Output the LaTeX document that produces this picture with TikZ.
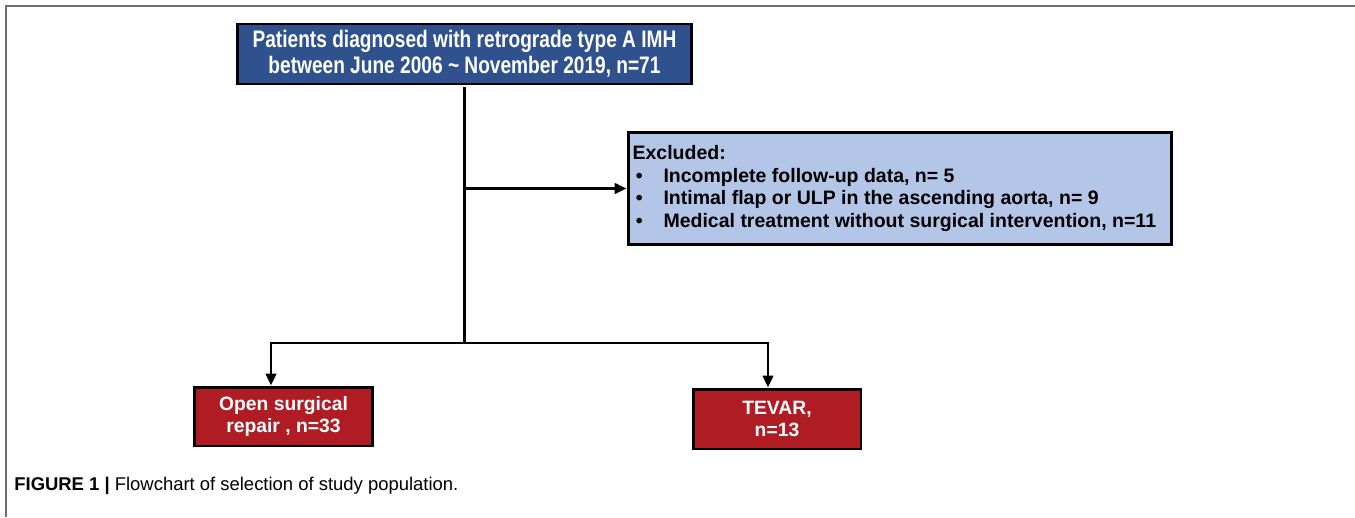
\documentclass[tikz,border=0pt]{standalone}
\usepackage{fontspec}
\setmainfont{Liberation Sans}
\newfontfamily\narrowsans[FakeStretch=0.8]{Liberation Sans}
\usepackage{tikz}
\usetikzlibrary{positioning,shapes,arrows,arrows.meta}
\definecolor{imhblue}{RGB}{47,82,143}
\definecolor{exclblue}{RGB}{180,198,231}
\definecolor{armred}{RGB}{176,28,35}
\definecolor{framegray}{RGB}{110,110,110}
\begin{document}
\begin{tikzpicture}[x=0.02cm,y=-0.02cm]
	\tikzset{box style/.style={draw=black, line width=1.7pt, inner sep=0pt, align=center, font=\bfseries},
	         link/.style={line width=1.6pt, draw=black},
	         tip/.style={-{Triangle[length=0.24cm,width=0.21cm]}}}
	\useasboundingbox (0,0) rectangle (1355,517);
	\draw[framegray, line width=1.1pt] (5,6) -- (1355,6) (6,6) -- (6,517);
	\node[box style, fill=imhblue, text=white, minimum width=9.1cm, minimum height=1.2cm,
	      font=\narrowsans\bfseries\fontsize{13.6}{14.8}\selectfont] (imh) at (464.5,54)
	      {Patients diagnosed with retrograde type A IMH\\between June 2006 \char`~\ November 2019, n=71};
	\node[box style, fill=exclblue, minimum width=10.88cm, minimum height=2.26cm, align=left,
	      font=\bfseries\fontsize{11.1}{12.9}\selectfont] (excl) at (900,188.5)
	      {\parbox{10.7cm}{Excluded:\\
	       \makebox[0.62cm][l]{\,\textbullet}Incomplete follow-up data, n= 5\\
	       \makebox[0.62cm][l]{\,\textbullet}Intimal flap or ULP in the ascending aorta, n= 9\\
	       \makebox[0.62cm][l]{\,\textbullet}Medical treatment without surgical intervention, n=11}};
	\node[box style, fill=armred, text=white, minimum width=3.58cm, minimum height=1.18cm,
	      font=\bfseries\fontsize{11}{12.8}\selectfont] (osr) at (283.5,416.5) {Open surgical\\repair , n=33};
	\node[box style, fill=armred, text=white, minimum width=3.36cm, minimum height=1.2cm,
	      font=\bfseries\fontsize{11}{12.8}\selectfont] (tevar) at (777,419) {TEVAR,\\n=13};
	\coordinate (split) at (imh.south |- 0,343);
	\draw[link] ([yshift=-0.04cm]imh.south) -- (split);
	\draw[link,tip] (imh.south |- excl.west) -- (excl.west);
	\draw[link,tip] (split) -| ([xshift=-0.25cm]osr.north);
	\draw[link,tip] (split) -| ([xshift=-0.18cm]tevar.north);
	\node[anchor=base west, inner sep=0pt, font=\fontsize{10.5}{12}\selectfont] (caption) at (14,490)
	      {\textbf{FIGURE 1 |} Flowchart of selection of study population.};
\end{tikzpicture}
\end{document}
